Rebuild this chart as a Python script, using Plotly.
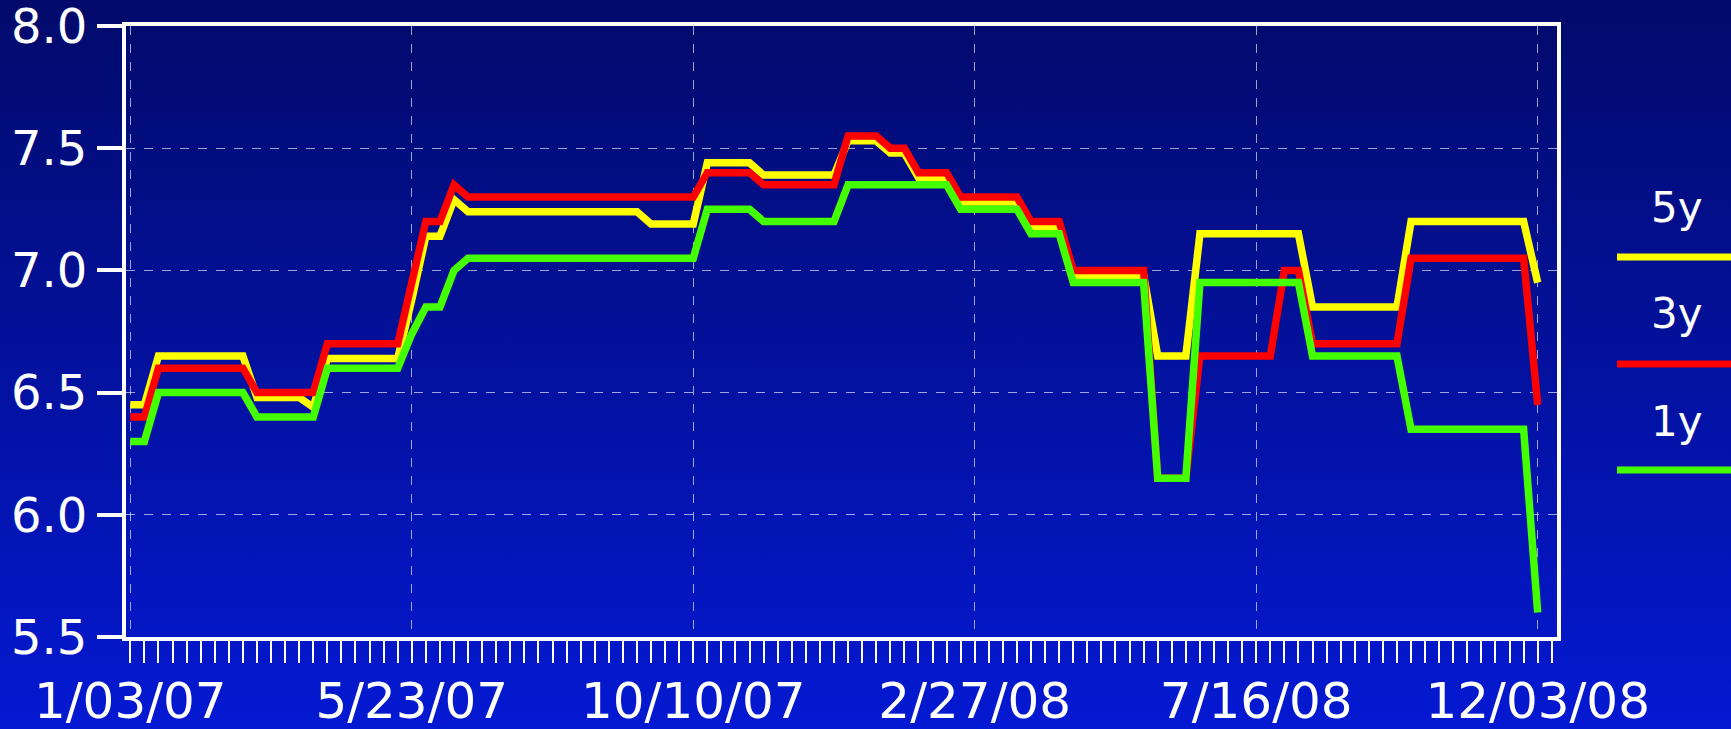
import base64
import pandas as pd
import plotly.graph_objects as go

# ---------------- data ----------------
start_date = "2007-01-03"
n_weeks = 101
dates = pd.date_range(start=start_date, periods=n_weeks, freq="7D")

series_names = ["5y", "3y", "1y"]
series_colors = ["#ffff00", "#ff0000", "#44ff00"]

y5 = ([6.45] * 2 + [6.65] * 7 + [6.48] * 4 + [6.44] + [6.64] * 6 + [6.88] +
      [7.14] * 2 + [7.29] + [7.24] * 13 + [7.19] * 4 + [7.44] * 4 + [7.39] * 6 +
      [7.53] * 3 + [7.48] * 2 + [7.38] * 3 + [7.28] * 5 + [7.18] * 3 + [6.98] * 6 +
      [6.65] * 3 + [7.15] * 8 + [6.85] * 7 + [7.20] * 9 + [6.95])

y3 = ([6.40] * 2 + [6.60] * 7 + [6.50] * 5 + [6.70] * 6 + [6.95] + [7.20] * 2 +
      [7.35] + [7.30] * 17 + [7.40] * 4 + [7.35] * 6 + [7.55] * 3 + [7.50] * 2 +
      [7.40] * 3 + [7.30] * 5 + [7.20] * 3 + [7.00] * 6 + [6.15] * 3 + [6.65] * 6 +
      [7.00] * 2 + [6.70] * 7 + [7.05] * 9 + [6.45])

y1 = ([6.30] * 2 + [6.50] * 7 + [6.40] * 5 + [6.60] * 6 + [6.74] + [6.85] * 2 +
      [7.00] + [7.05] * 17 + [7.25] * 4 + [7.20] * 6 + [7.35] * 8 + [7.25] * 5 +
      [7.15] * 3 + [6.95] * 6 + [6.15] * 3 + [6.95] * 8 + [6.65] * 7 + [6.35] * 9 +
      [5.60])

series_values = [y5, y3, y1]

y_ticks = [5.5, 6.0, 6.5, 7.0, 7.5, 8.0]

# ---------------- layout geometry ----------------
W, H = 1731, 729
ML, MR, MT, MB = 126, 174, 26, 92
PW, PH = W - ML - MR, H - MT - MB


def px_x(p):
    return (p - ML) / PW


def px_y(p):
    return (H - MB - p) / PH


FONT = "DejaVu Sans"

fig = go.Figure()

# draw order: yellow, red, green (green on top)
for name, vals, col in zip(series_names, series_values, series_colors):
    fig.add_trace(go.Scatter(
        x=dates, y=vals, mode="lines", name=name,
        line=dict(color=col, width=7.5), showlegend=False,
    ))

# background gradient
svg = ('<svg xmlns="http://www.w3.org/2000/svg" width="100" height="100" '
       'preserveAspectRatio="none" viewBox="0 0 100 100">'
       '<defs><linearGradient id="g" x1="0" y1="0" x2="0" y2="1">'
       '<stop offset="0" stop-color="#020a6a"/>'
       '<stop offset="1" stop-color="#0419d2"/>'
       '</linearGradient></defs>'
       '<rect x="0" y="0" width="100" height="100" fill="url(#g)"/></svg>')
src = "data:image/svg+xml;base64," + base64.b64encode(svg.encode()).decode()

x_left = pd.Timestamp(start_date) - pd.Timedelta(days=2.14)
x_right = pd.Timestamp(start_date) + pd.Timedelta(days=709.6)

fig.update_layout(
    width=W, height=H,
    margin=dict(l=ML, r=MR, t=MT, b=MB, pad=0, autoexpand=False),
    paper_bgcolor="#0312a0",
    plot_bgcolor="rgba(0,0,0,0)",
    showlegend=False,
    images=[dict(
        source=src, xref="paper", yref="paper",
        x=px_x(0), y=px_y(0), sizex=W / PW, sizey=H / PH,
        xanchor="left", yanchor="top", sizing="stretch", layer="below",
    )],
    font=dict(family=FONT, color="white"),
)

fig.update_xaxes(
    range=[x_left, x_right],
    automargin=False,
    tickmode="linear", tick0=start_date, dtick=20 * 7 * 86400000,
    tickformat="%-m/%d/%y",
    ticks="outside", ticklen=22, tickwidth=2, tickcolor="white",
    tickfont=dict(family=FONT, size=50, color="white"),
    ticklabelstandoff=-5,
    ticklabeloverflow="allow",
    showgrid=True, gridcolor="rgba(255,255,255,0.62)", gridwidth=1, griddash="dash",
    showline=True, linecolor="white", linewidth=4, mirror=True,
    minor=dict(ticks="outside", ticklen=22, tickwidth=2, tickcolor="white",
               dtick=7 * 86400000, tick0=start_date, showgrid=False),
    zeroline=False,
)

fig.update_yaxes(
    range=[5.5, 8.0],
    automargin=False,
    tickmode="array", tickvals=y_ticks, ticktext=[f"{v:.1f}" for v in y_ticks],
    ticks="outside", ticklen=25, tickwidth=4, tickcolor="white",
    tickfont=dict(family=FONT, size=48, color="white"),
    ticklabeloverflow="allow",
    showgrid=True, gridcolor="rgba(255,255,255,0.62)", gridwidth=1, griddash="dash",
    showline=True, linecolor="white", linewidth=4, mirror=True,
    zeroline=False,
)

# manual legend: label above a line segment
legend_text_y = [207, 314, 421]
legend_line_y = [257, 364, 470]
for name, col, ty, ly in zip(series_names, series_colors, legend_text_y, legend_line_y):
    fig.add_annotation(
        text=name, xref="paper", yref="paper", x=px_x(1677), y=px_y(ty),
        xanchor="center", yanchor="middle", showarrow=False,
        font=dict(family=FONT, size=42, color="white"),
    )
    fig.add_shape(
        type="line", xref="paper", yref="paper",
        x0=px_x(1617), x1=px_x(1735), y0=px_y(ly), y1=px_y(ly),
        line=dict(color=col, width=7),
    )

fig.write_html(
    "out.html",
    config={"displayModeBar": False},
    post_script="document.body.style.margin='0';document.body.style.overflow='hidden';",
)
